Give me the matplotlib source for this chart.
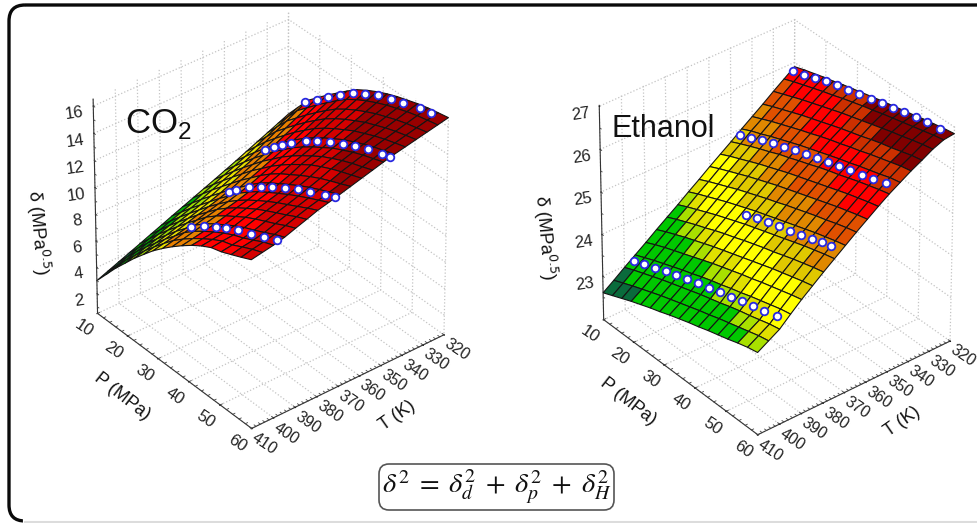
import matplotlib
matplotlib.use('Agg')
import matplotlib.pyplot as plt
import numpy as np
from matplotlib.colors import BoundaryNorm, ListedColormap
from matplotlib.patches import FancyBboxPatch
from matplotlib.transforms import ScaledTranslation
from mpl_toolkits.mplot3d import proj3d

plt.rcParams['font.family'] = ['Liberation Sans', 'DejaVu Sans']
plt.rcParams['grid.linestyle'] = ':'
plt.rcParams['grid.color'] = '#c4c4c4'
plt.rcParams['grid.linewidth'] = 0.9

# pressure (MPa) and temperature (K) of the surface mesh
P = [10, 13.125, 16.25, 19.375, 22.5, 25.625, 28.75, 31.875, 35, 38.125, 41.25,
     44.375, 47.5, 50.625, 53.75, 56.875, 60]
T = [320, 325, 330, 335, 340, 345, 350, 355, 360, 365, 370, 375, 380, 385, 390,
     395, 400, 405, 410]

co2_z = [
    [8.94, 9.95, 10.97, 11.66, 12.36, 13.00, 13.65, 14.24, 14.69, 15.08, 15.42, 15.71, 15.95, 16.19, 16.38, 16.53, 16.67],
    [8.59, 9.57, 10.55, 11.26, 11.97, 12.63, 13.28, 13.88, 14.35, 14.76, 15.12, 15.44, 15.70, 15.96, 16.17, 16.34, 16.50],
    [8.24, 9.19, 10.13, 10.86, 11.58, 12.26, 12.91, 13.52, 14.01, 14.44, 14.82, 15.17, 15.45, 15.73, 15.96, 16.15, 16.33],
    [7.90, 8.81, 9.71, 10.46, 11.19, 11.89, 12.54, 13.16, 13.67, 14.12, 14.52, 14.90, 15.20, 15.50, 15.75, 15.96, 16.16],
    [7.55, 8.43, 9.29, 10.06, 10.80, 11.52, 12.17, 12.80, 13.33, 13.80, 14.22, 14.63, 14.95, 15.27, 15.54, 15.77, 15.99],
    [7.20, 8.05, 8.87, 9.66, 10.41, 11.15, 11.80, 12.44, 12.99, 13.48, 13.92, 14.36, 14.70, 15.04, 15.33, 15.58, 15.82],
    [6.87, 7.70, 8.50, 9.30, 10.05, 10.80, 11.45, 12.11, 12.67, 13.18, 13.64, 14.10, 14.46, 14.81, 15.11, 15.36, 15.62],
    [6.54, 7.37, 8.17, 8.96, 9.71, 10.46, 11.12, 11.79, 12.37, 12.90, 13.38, 13.85, 14.22, 14.57, 14.87, 15.13, 15.40],
    [6.22, 7.04, 7.84, 8.62, 9.37, 10.12, 10.79, 11.47, 12.07, 12.62, 13.12, 13.60, 13.98, 14.33, 14.63, 14.90, 15.18],
    [5.90, 6.71, 7.51, 8.28, 9.03, 9.78, 10.46, 11.15, 11.77, 12.30, 12.75, 13.20, 13.62, 14.00, 14.33, 14.63, 14.96],
    [5.58, 6.38, 7.18, 7.94, 8.69, 9.44, 10.13, 10.83, 11.47, 12.00, 12.45, 12.90, 13.33, 13.72, 14.07, 14.40, 14.74],
    [5.26, 6.07, 6.88, 7.64, 8.40, 9.16, 9.86, 10.57, 11.18, 11.72, 12.18, 12.62, 13.05, 13.45, 13.82, 14.18, 14.53],
    [4.93, 5.77, 6.60, 7.38, 8.15, 8.92, 9.63, 10.32, 10.93, 11.47, 11.95, 12.40, 12.82, 13.20, 13.58, 13.97, 14.33],
    [4.61, 5.47, 6.32, 7.12, 7.90, 8.68, 9.40, 10.12, 10.73, 11.27, 11.75, 12.20, 12.60, 12.97, 13.33, 13.72, 14.05],
    [4.28, 5.17, 6.04, 6.86, 7.65, 8.44, 9.17, 9.92, 10.52, 11.05, 11.52, 11.98, 12.37, 12.72, 13.07, 13.45, 13.78],
    [3.96, 4.87, 5.76, 6.60, 7.40, 8.20, 8.94, 9.70, 10.32, 10.83, 11.28, 11.73, 12.12, 12.45, 12.80, 13.18, 13.50],
    [3.64, 4.58, 5.50, 6.36, 7.18, 7.99, 8.75, 9.52, 10.14, 10.66, 11.13, 11.57, 11.95, 12.25, 12.62, 13.00, 13.30],
    [3.32, 4.28, 5.23, 6.12, 6.98, 7.79, 8.57, 9.31, 9.94, 10.50, 11.01, 11.48, 11.88, 12.12, 12.50, 12.85, 13.15],
    [3.00, 3.99, 4.98, 5.88, 6.78, 7.60, 8.40, 9.10, 9.75, 10.35, 10.90, 11.38, 11.78, 12.00, 12.32, 12.65, 13.00],
]

eth_z = [
    [25.90, 25.98, 26.05, 26.12, 26.18, 26.25, 26.31, 26.37, 26.43, 26.49, 26.54, 26.60, 26.65, 26.71, 26.76, 26.81, 26.85],
    [25.72, 25.81, 25.89, 25.97, 26.05, 26.12, 26.20, 26.27, 26.34, 26.40, 26.47, 26.53, 26.59, 26.65, 26.71, 26.77, 26.82],
    [25.54, 25.63, 25.72, 25.81, 25.89, 25.97, 26.05, 26.13, 26.20, 26.27, 26.34, 26.41, 26.48, 26.54, 26.61, 26.67, 26.72],
    [25.35, 25.45, 25.54, 25.63, 25.72, 25.80, 25.88, 25.96, 26.04, 26.11, 26.18, 26.26, 26.33, 26.39, 26.46, 26.53, 26.58],
    [25.17, 25.27, 25.37, 25.46, 25.55, 25.64, 25.72, 25.81, 25.89, 25.96, 26.04, 26.11, 26.19, 26.26, 26.33, 26.40, 26.45],
    [24.99, 25.10, 25.19, 25.29, 25.38, 25.47, 25.56, 25.64, 25.72, 25.80, 25.88, 25.95, 26.03, 26.10, 26.17, 26.25, 26.30],
    [24.80, 24.91, 25.01, 25.11, 25.20, 25.30, 25.38, 25.47, 25.55, 25.64, 25.72, 25.79, 25.87, 25.95, 26.02, 26.09, 26.15],
    [24.62, 24.73, 24.83, 24.93, 25.03, 25.12, 25.21, 25.30, 25.38, 25.46, 25.54, 25.62, 25.70, 25.78, 25.85, 25.92, 25.98],
    [24.44, 24.55, 24.65, 24.75, 24.85, 24.94, 25.03, 25.12, 25.20, 25.28, 25.36, 25.44, 25.52, 25.60, 25.67, 25.74, 25.80],
    [24.25, 24.36, 24.46, 24.56, 24.66, 24.75, 24.84, 24.93, 25.01, 25.10, 25.18, 25.26, 25.34, 25.41, 25.49, 25.56, 25.62],
    [24.07, 24.18, 24.28, 24.38, 24.48, 24.57, 24.66, 24.75, 24.83, 24.91, 24.99, 25.07, 25.15, 25.23, 25.30, 25.37, 25.43],
    [23.88, 23.99, 24.09, 24.19, 24.29, 24.38, 24.47, 24.56, 24.64, 24.72, 24.80, 24.88, 24.96, 25.04, 25.11, 25.18, 25.24],
    [23.70, 23.81, 23.91, 24.01, 24.10, 24.20, 24.29, 24.37, 24.46, 24.54, 24.62, 24.69, 24.77, 24.85, 24.92, 24.99, 25.05],
    [23.52, 23.63, 23.73, 23.83, 23.92, 24.01, 24.10, 24.18, 24.26, 24.34, 24.42, 24.50, 24.58, 24.65, 24.72, 24.79, 24.85],
    [23.33, 23.44, 23.54, 23.63, 23.72, 23.81, 23.90, 23.99, 24.07, 24.15, 24.23, 24.30, 24.38, 24.45, 24.52, 24.59, 24.65],
    [23.15, 23.25, 23.35, 23.44, 23.53, 23.62, 23.70, 23.79, 23.87, 23.94, 24.02, 24.09, 24.17, 24.24, 24.31, 24.38, 24.43],
    [22.97, 23.07, 23.16, 23.25, 23.34, 23.42, 23.50, 23.58, 23.66, 23.73, 23.80, 23.88, 23.95, 24.01, 24.08, 24.15, 24.20],
    [22.78, 22.88, 22.98, 23.07, 23.16, 23.25, 23.33, 23.41, 23.49, 23.57, 23.64, 23.72, 23.79, 23.86, 23.93, 24.00, 24.05],
    [22.60, 22.70, 22.80, 22.90, 22.99, 23.08, 23.16, 23.25, 23.33, 23.41, 23.48, 23.56, 23.63, 23.70, 23.78, 23.85, 23.90],
]

# measured points, one row per isotherm
co2_T = [322, 347, 372, 397]
co2_P = [[16.8, 20.7, 24.2, 28, 31.9, 35.7, 39.6, 43.8, 47.4, 52.6, 56.1],
         [21, 23.9, 26.5, 29.4, 33.9, 37.4, 41.6, 45.5, 49.4, 53.2, 57.7, 60],
         [26.5, 29, 33, 36.8, 40.3, 44.5, 48.4, 52.3, 56.8, 60],
         [32, 36, 40, 43, 47, 51, 55, 59]]
co2_d = [[11.05, 11.85, 12.6, 13.4, 14.15, 14.7, 15.2, 15.6, 15.9, 16.3, 16.5],
         [9.95, 10.65, 11.25, 11.85, 12.7, 13.3, 13.9, 14.4, 14.85, 15.25, 15.6, 15.8],
         [9.55, 10.1, 11.0, 11.6, 12.2, 12.85, 13.35, 13.8, 14.3, 14.7],
         [9.7, 10.45, 11.05, 11.5, 12.0, 12.4, 12.85, 13.3]]

eth_T = [322, 347, 372, 397]
eth_P = [[11, 14.5, 18, 21.5, 25, 28.5, 32, 35.5, 39, 42.5, 46, 49.5, 53, 57],
         [11, 14.5, 18, 21.5, 25, 28.5, 32, 35.5, 39, 42.5, 46, 49.5, 53, 57],
         [30, 33.5, 37, 40.5, 44, 47.5, 51, 54, 57],
         [11, 14.5, 18, 21.5, 25, 28.5, 32, 35.5, 39, 42.5, 46, 49.5, 53, 57]]
eth_d = [[25.89, 25.98, 26.08, 26.17, 26.25, 26.33, 26.40, 26.47, 26.55, 26.61, 26.68, 26.74, 26.80, 26.85],
         [24.95, 25.06, 25.18, 25.29, 25.38, 25.48, 25.57, 25.66, 25.75, 25.83, 25.91, 25.98, 26.06, 26.17],
         [24.62, 24.72, 24.81, 24.90, 24.98, 25.07, 25.16, 25.24, 25.31],
         [23.10, 23.22, 23.32, 23.42, 23.51, 23.60, 23.70, 23.78, 23.86, 23.94, 24.02, 24.09, 24.17, 24.27]]

co2_levels = [0, 4.5, 6.3, 7.6, 8.9, 10.8, 12.5, 14.5, 20]
co2_colors = ['#0a6b3c', '#00b000', '#a0e000', '#e8e000', '#e88000', '#ff0000', '#d40000', '#980000']
eth_levels = [20, 22.97, 23.85, 24.04, 24.22, 24.69, 25.0, 25.33, 25.69, 26.1, 26.37, 28]
eth_colors = ['#0a6b3c', '#00c800', '#a8e000', '#e0e000', '#ffff00', '#e0c800', '#e08800', '#e05000', '#ff0000',
              '#cc3000', '#800000']

P_ticks = [10, 20, 30, 40, 50, 60]
T_ticks = [320, 330, 340, 350, 360, 370, 380, 390, 400, 410]


def px_text(x, y, s, **kw):
    fig.text(x / W, 1 - y / H, s, color='#111111', **kw)


def floor_label(ax, x, y, z, s, dx, dy, size=12):
    xp, yp, _ = proj3d.proj_transform(x, y, z, ax.get_proj())
    shift = ScaledTranslation(dx / 100, dy / 100, fig.dpi_scale_trans)
    ax.text2D(xp, yp, s, transform=ax.transData + shift, fontsize=size, rotation=-34, ha='center', va='center',
              color='#222222', rotation_mode='anchor')


def draw_panel(rect, z, levels, colors, rows_T, rows_P, rows_d, zlim, zticks, zminor):
    ax = fig.add_axes(rect, projection='3d', computed_zorder=False)
    ax.set_proj_type('persp', focal_length=2.2)
    ax.view_init(elev=35, azim=-39)
    ax.set_box_aspect((1, 1, 1.05), zoom=0.855)
    ax.patch.set_alpha(0)
    pp, tt = np.meshgrid(P, T)
    zz = np.array(z)
    cell = (zz[:-1, :-1] + zz[1:, :-1] + zz[:-1, 1:] + zz[1:, 1:]) / 4
    cmap = ListedColormap(colors)
    norm = BoundaryNorm(levels, cmap.N)
    ax.plot_surface(pp, tt, zz, facecolors=cmap(norm(cell)), shade=False, edgecolor='#141414',
                    linewidth=0.8, rstride=1, cstride=1, antialiased=True)
    for t0, ps, ds in zip(rows_T, rows_P, rows_d):
        ax.scatter(ps, [t0] * len(ps), ds, s=30, c='white', edgecolors='#2828e0', linewidths=1.3,
                   depthshade=False)
    ax.set_xticks(P_ticks)
    ax.set_yticks(T_ticks)
    ax.set_zticks(zticks)
    ax.set_xticklabels([])
    ax.set_yticklabels([])
    ax.tick_params(axis='z', labelsize=12, pad=2, colors='#222222')
    for lab in ax.get_zticklabels():
        lab.set_rotation(8)
    for a in (ax.xaxis, ax.yaxis, ax.zaxis):
        a.set_pane_color((1, 1, 1, 0))
        a.pane.set_edgecolor((1, 1, 1, 0))
        a.line.set_color('#333333')
        a._axinfo['tick'].update({'inward_factor': 0.03, 'outward_factor': 0.0})
    ax.zaxis.set_ticks_position('upper')
    # small ticks between the numbered ones
    z0 = zlim[0]
    for v in np.arange(10, 60.1, 2):
        ax.plot([v, v], [410, 409], [z0, z0], color='#444444', lw=0.6)
    for v in np.arange(320, 410.1, 2):
        ax.plot([60, 59.4], [v, v], [z0, z0], color='#444444', lw=0.6)
    for v in zminor:
        ax.plot([10, 10.5], [410, 410], [v, v], color='#444444', lw=0.6)
    ax.set_xlim(10, 60)
    ax.set_ylim(410, 320)
    ax.set_zlim(*zlim)
    # numbered ticks along the floor edges, just outside the box
    for v in P_ticks:
        floor_label(ax, v, 416.5, z0, str(v), 0, -8)
    for v in T_ticks:
        floor_label(ax, 65.3, v, z0, str(v), -4, -3, size=11.5)
    return ax


W, H = 978, 523
fig = plt.figure(figsize=(W / 100, H / 100), dpi=100)
fig.patch.set_facecolor('white')

draw_panel([0.0145, 0.09, 0.51, 0.96], co2_z, co2_levels, co2_colors, co2_T, co2_P, co2_d, (0.5, 16.5),
           [2, 4, 6, 8, 10, 12, 14, 16], np.arange(1, 16.5, 1))
draw_panel([0.532, 0.078, 0.51, 0.96], eth_z, eth_levels, eth_colors, eth_T, eth_P, eth_d, (21.95, 27.02),
           [23, 24, 25, 26, 27], np.arange(22.5, 27, 0.5))

label_kw = dict(fontsize=13, ha='center', va='center', rotation_mode='anchor')
px_text(38, 233, 'δ (MPa$^{0.5}$)', rotation=-85, **label_kw)
px_text(122, 397, 'P (MPa)', rotation=-38, **label_kw)
px_text(397, 416, 'T (K)', rotation=35, **label_kw)
px_text(545, 238, 'δ (MPa$^{0.5}$)', rotation=-85, **label_kw)
px_text(628, 402, 'P (MPa)', rotation=-38, **label_kw)
px_text(902, 422, 'T (K)', rotation=35, **label_kw)
px_text(125, 133, 'CO$_{\\mathregular{2}}$', fontsize=25, ha='left', va='baseline')
px_text(611, 137, 'Ethanol', fontsize=22, ha='left', va='baseline')

bg = fig.add_axes([0, 0, 1, 1], zorder=-1)
bg.set_xlim(0, W)
bg.set_ylim(H, 0)
bg.axis('off')
bg.add_patch(FancyBboxPatch((9, 5), 1000, 516, boxstyle='round,pad=0,rounding_size=16', fc='none', ec='#0a0a0a',
                            lw=2.4))
bg.plot([25, W], [521, 521], color='white', lw=3)
bg.plot([25, W], [521.5, 521.5], color='#dcdcdc', lw=1.5)

ov = fig.add_axes([0, 0, 1, 1], zorder=5)
ov.set_xlim(0, W)
ov.set_ylim(H, 0)
ov.axis('off')
ov.add_patch(FancyBboxPatch((379, 464), 235, 46, boxstyle='round,pad=0,rounding_size=10', fc='white', ec='#555555',
                            lw=1.2))
ov.text(497, 487, r'$\delta^2\;=\;\delta_d^2\;+\;\delta_p^2\;+\;\delta_H^2$', fontsize=20.5, ha='center', va='center',
        math_fontfamily='stix', color='#111111')

fig.savefig('out.png', dpi=100)
